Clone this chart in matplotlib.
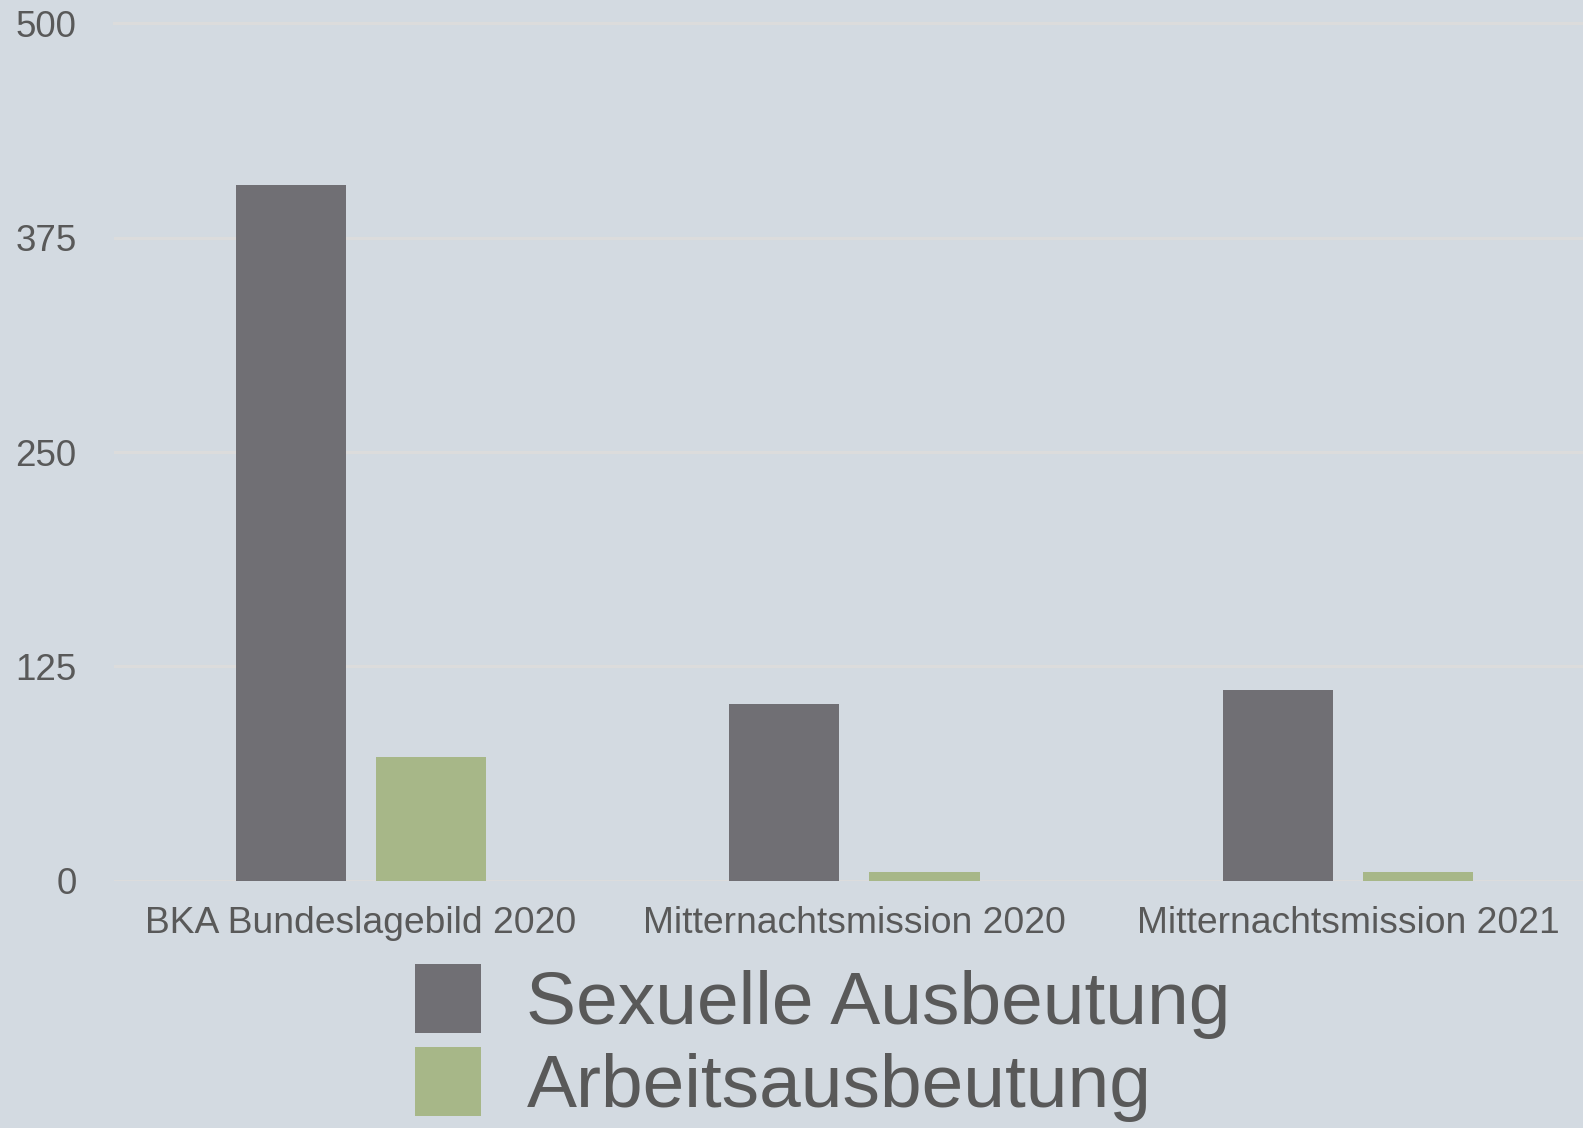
import numpy as np
import matplotlib
matplotlib.use("Agg")
import matplotlib.pyplot as plt

categories = ["BKA Bundeslagebild 2020", "Mitternachtsmission 2020", "Mitternachtsmission 2021"]
sexuelle = [406, 103, 111]
arbeit = [72, 5, 5]
series_names = ["Sexuelle Ausbeutung", "Arbeitsausbeutung"]
yticks = [0, 125, 250, 375, 500]

bg = "#d3dae1"
grey = "#706f74"
green = "#a7b788"
text_col = "#595959"

plt.rcParams["font.family"] = ["Liberation Sans", "DejaVu Sans"]

fig = plt.figure(figsize=(15.83, 11.28), dpi=100, facecolor=bg)
ax = fig.add_axes([0.072, 0.2192, 0.928, 0.7601], facecolor=bg)

x = np.arange(len(categories))
w = 0.223
off = 0.142
ax.bar(x - off, sexuelle, w, color=grey, label=series_names[0], zorder=3)
ax.bar(x + off, arbeit, w, color=green, label=series_names[1], zorder=3)

ax.set_xlim(-0.5, 2.476)
ax.set_ylim(0, 500)
ax.set_yticks(yticks)
ax.set_xticks(x)
ax.set_xticklabels(categories)
ax.yaxis.grid(True, color="#dcdcdc", linewidth=2.2, zorder=0)
ax.set_axisbelow(True)
for s in ax.spines.values():
    s.set_visible(False)
ax.tick_params(axis="both", length=0, colors=text_col)
ax.tick_params(axis="y", pad=27, labelsize=26.5)
ax.tick_params(axis="x", pad=18, labelsize=26.8)
ax.yaxis.get_major_ticks()[-1].gridline.set_clip_on(False)

leg = fig.legend(loc="upper left", bbox_to_anchor=(0.262, 0.1455), frameon=False,
                 fontsize=54, handlelength=0.89, handleheight=1.04,
                 handletextpad=0.6, labelspacing=0.1,
                 borderpad=0, borderaxespad=0)
for t in leg.get_texts():
    t.set_color(text_col)

fig.savefig("out.png", dpi=100, facecolor=bg)
